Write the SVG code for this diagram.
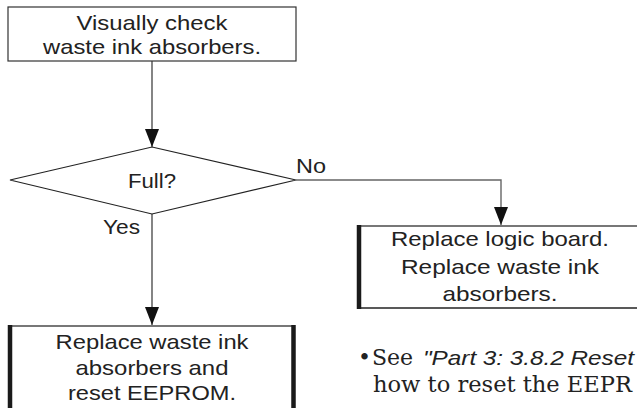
<svg xmlns="http://www.w3.org/2000/svg" width="637" height="408" viewBox="0 0 637 408">
<style>
.t{font-family:"Liberation Sans",Arial,sans-serif;font-size:21px;fill:#222;text-anchor:middle}
.l{font-family:"Liberation Sans",Arial,sans-serif;font-size:21px;fill:#222}
.n{font-family:"DejaVu Serif","Liberation Serif",serif;font-size:22px;fill:#222}
.i{font-family:"Liberation Sans",Arial,sans-serif;font-size:21px;font-style:italic;fill:#222}
.c{fill:none;stroke:#333;stroke-width:1.2}
.g{fill:none;stroke:#666;stroke-width:1.4}
.box{fill:#fff;stroke:#333;stroke-width:1.2}
</style>
<defs>
<marker id="ah" markerUnits="userSpaceOnUse" markerWidth="18" markerHeight="14" refX="18" refY="7" orient="auto">
<path d="M0,0 L18,7 L0,14 Z" fill="#111"/>
</marker>
</defs>
<rect width="637" height="408" fill="#fff"/>
<g id="connectors">
<path class="c" d="M152,61 V147" marker-end="url(#ah)"/>
<path class="c" d="M152,214 V325" marker-end="url(#ah)"/>
<path class="g" d="M296,180 H501 V225" marker-end="url(#ah)"/>
</g>
<g id="start">
<rect class="box" x="8" y="7" width="288" height="54"/>
<text class="t" x="152" y="30" textLength="151" lengthAdjust="spacingAndGlyphs">Visually check</text>
<text class="t" x="152" y="54" textLength="218" lengthAdjust="spacingAndGlyphs">waste ink absorbers.</text>
</g>
<g id="decision">
<path d="M152,147 L296,180 L152,214 L10,180 Z" fill="#fff" stroke="#222" stroke-width="1.2"/>
<text class="t" x="152" y="188" textLength="48" lengthAdjust="spacingAndGlyphs">Full?</text>
<text class="l" x="140" y="234" text-anchor="end" textLength="37" lengthAdjust="spacingAndGlyphs">Yes</text>
<text class="l" x="296" y="173" textLength="30" lengthAdjust="spacingAndGlyphs">No</text>
</g>
<g id="logic-board">
<rect x="358" y="226" width="290" height="82" fill="#fff"/>
<path d="M358,226 H637" stroke="#777" stroke-width="2" fill="none"/>
<path d="M358,308 H637" stroke="#222" stroke-width="1.5" fill="none"/>
<path d="M359,225 V309" stroke="#1a1a1a" stroke-width="4.5" fill="none"/>
<text class="t" x="500" y="246" textLength="218" lengthAdjust="spacingAndGlyphs">Replace logic board.</text>
<text class="t" x="500" y="274" textLength="198" lengthAdjust="spacingAndGlyphs">Replace waste ink</text>
<text class="t" x="500" y="301" textLength="115" lengthAdjust="spacingAndGlyphs">absorbers.</text>
</g>
<g id="replace-reset">
<rect x="10" y="326" width="284" height="90" fill="#fff"/>
<path d="M10,326 H294" stroke="#777" stroke-width="2" fill="none"/>
<path d="M10,325 V408 M293.5,325 V408" stroke="#1a1a1a" stroke-width="4.5" fill="none"/>
<text class="t" x="152" y="349" textLength="193" lengthAdjust="spacingAndGlyphs">Replace waste ink</text>
<text class="t" x="152" y="375" textLength="153" lengthAdjust="spacingAndGlyphs">absorbers and</text>
<text class="t" x="152" y="400" textLength="168" lengthAdjust="spacingAndGlyphs">reset EEPROM.</text>
</g>
<g id="note">
<text class="n" x="358" y="365">•</text>
<text class="n" x="372" y="365">See</text>
<text class="i" x="423" y="365" textLength="211" lengthAdjust="spacingAndGlyphs">"Part 3: 3.8.2 Reset</text>
<text class="n" x="373" y="392" textLength="259" lengthAdjust="spacingAndGlyphs">how to reset the EEPR</text>
</g>
</svg>
